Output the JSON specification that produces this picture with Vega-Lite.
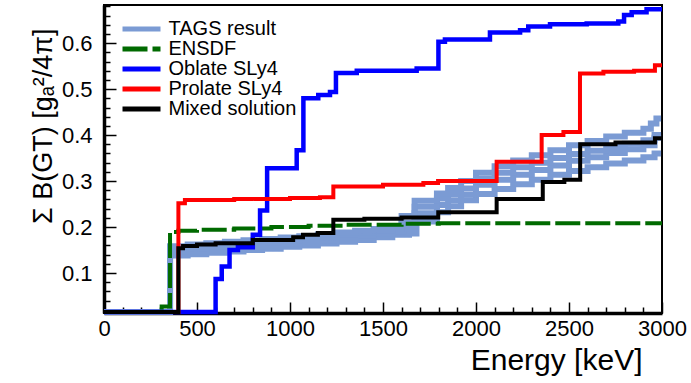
{
  "$schema": "https://vega.github.io/schema/vega-lite/v6.json",
  "width": 558,
  "height": 308,
  "autosize": {"type": "none"},
  "padding": {"left": 104, "top": 5, "right": 29, "bottom": 70},
  "background": "white",
  "config": {
    "font": "Liberation Sans",
    "view": {"stroke": "black", "strokeWidth": 2},
    "axis": {"domainColor": "black", "domainWidth": 3.5, "tickColor": "black", "tickWidth": 1.5, "labelColor": "black", "titleColor": "black", "labelFont": "Liberation Sans", "titleFont": "Liberation Sans", "labelFontSize": 22, "titleFontSize": 27, "titleFontWeight": "normal", "grid": false, "labelOverlap": false, "labelFlush": false, "labelBound": false},
    "legend": {"symbolType": "M-3.8,0H3.8", "symbolSize": 100, "symbolStrokeWidth": 5, "labelFontSize": 20, "labelFont": "Liberation Sans", "labelColor": "black", "labelOffset": 17, "rowPadding": 0, "padding": 0, "offset": 0}
  },
  "data": {"values": [
    {"s": "TAGS result", "r": "t1", "E": 0, "y": 0.015},
    {"s": "TAGS result", "r": "t1", "E": 355, "y": 0.138},
    {"s": "TAGS result", "r": "t1", "E": 450, "y": 0.141},
    {"s": "TAGS result", "r": "t1", "E": 550, "y": 0.144},
    {"s": "TAGS result", "r": "t1", "E": 650, "y": 0.147},
    {"s": "TAGS result", "r": "t1", "E": 750, "y": 0.150},
    {"s": "TAGS result", "r": "t1", "E": 850, "y": 0.153},
    {"s": "TAGS result", "r": "t1", "E": 950, "y": 0.157},
    {"s": "TAGS result", "r": "t1", "E": 1050, "y": 0.160},
    {"s": "TAGS result", "r": "t1", "E": 1150, "y": 0.164},
    {"s": "TAGS result", "r": "t1", "E": 1250, "y": 0.168},
    {"s": "TAGS result", "r": "t1", "E": 1350, "y": 0.172},
    {"s": "TAGS result", "r": "t1", "E": 1450, "y": 0.178},
    {"s": "TAGS result", "r": "t1", "E": 1550, "y": 0.183},
    {"s": "TAGS result", "r": "t1", "E": 1640, "y": 0.186},
    {"s": "TAGS result", "r": "t1", "E": 1680, "y": 0.212},
    {"s": "TAGS result", "r": "t1", "E": 1790, "y": 0.232},
    {"s": "TAGS result", "r": "t1", "E": 1850, "y": 0.245},
    {"s": "TAGS result", "r": "t1", "E": 1920, "y": 0.258},
    {"s": "TAGS result", "r": "t1", "E": 2000, "y": 0.272},
    {"s": "TAGS result", "r": "t1", "E": 2100, "y": 0.283},
    {"s": "TAGS result", "r": "t1", "E": 2200, "y": 0.293},
    {"s": "TAGS result", "r": "t1", "E": 2300, "y": 0.303},
    {"s": "TAGS result", "r": "t1", "E": 2400, "y": 0.314},
    {"s": "TAGS result", "r": "t1", "E": 2500, "y": 0.322},
    {"s": "TAGS result", "r": "t1", "E": 2600, "y": 0.330},
    {"s": "TAGS result", "r": "t1", "E": 2700, "y": 0.338},
    {"s": "TAGS result", "r": "t1", "E": 2800, "y": 0.345},
    {"s": "TAGS result", "r": "t1", "E": 2900, "y": 0.352},
    {"s": "TAGS result", "r": "t1", "E": 2960, "y": 0.360},
    {"s": "TAGS result", "r": "t1", "E": 2995, "y": 0.360},
    {"s": "TAGS result", "r": "t2", "E": 0, "y": 0.015},
    {"s": "TAGS result", "r": "t2", "E": 355, "y": 0.143},
    {"s": "TAGS result", "r": "t2", "E": 450, "y": 0.147},
    {"s": "TAGS result", "r": "t2", "E": 550, "y": 0.150},
    {"s": "TAGS result", "r": "t2", "E": 650, "y": 0.153},
    {"s": "TAGS result", "r": "t2", "E": 750, "y": 0.157},
    {"s": "TAGS result", "r": "t2", "E": 850, "y": 0.160},
    {"s": "TAGS result", "r": "t2", "E": 950, "y": 0.164},
    {"s": "TAGS result", "r": "t2", "E": 1050, "y": 0.167},
    {"s": "TAGS result", "r": "t2", "E": 1150, "y": 0.171},
    {"s": "TAGS result", "r": "t2", "E": 1250, "y": 0.176},
    {"s": "TAGS result", "r": "t2", "E": 1350, "y": 0.181},
    {"s": "TAGS result", "r": "t2", "E": 1450, "y": 0.186},
    {"s": "TAGS result", "r": "t2", "E": 1550, "y": 0.190},
    {"s": "TAGS result", "r": "t2", "E": 1610, "y": 0.198},
    {"s": "TAGS result", "r": "t2", "E": 1670, "y": 0.230},
    {"s": "TAGS result", "r": "t2", "E": 1790, "y": 0.248},
    {"s": "TAGS result", "r": "t2", "E": 1850, "y": 0.258},
    {"s": "TAGS result", "r": "t2", "E": 1920, "y": 0.270},
    {"s": "TAGS result", "r": "t2", "E": 2000, "y": 0.292},
    {"s": "TAGS result", "r": "t2", "E": 2100, "y": 0.303},
    {"s": "TAGS result", "r": "t2", "E": 2200, "y": 0.314},
    {"s": "TAGS result", "r": "t2", "E": 2300, "y": 0.324},
    {"s": "TAGS result", "r": "t2", "E": 2400, "y": 0.334},
    {"s": "TAGS result", "r": "t2", "E": 2500, "y": 0.344},
    {"s": "TAGS result", "r": "t2", "E": 2600, "y": 0.352},
    {"s": "TAGS result", "r": "t2", "E": 2700, "y": 0.361},
    {"s": "TAGS result", "r": "t2", "E": 2800, "y": 0.369},
    {"s": "TAGS result", "r": "t2", "E": 2900, "y": 0.378},
    {"s": "TAGS result", "r": "t2", "E": 2960, "y": 0.394},
    {"s": "TAGS result", "r": "t2", "E": 2995, "y": 0.394},
    {"s": "TAGS result", "r": "t3", "E": 0, "y": 0.015},
    {"s": "TAGS result", "r": "t3", "E": 355, "y": 0.150},
    {"s": "TAGS result", "r": "t3", "E": 450, "y": 0.154},
    {"s": "TAGS result", "r": "t3", "E": 550, "y": 0.157},
    {"s": "TAGS result", "r": "t3", "E": 650, "y": 0.160},
    {"s": "TAGS result", "r": "t3", "E": 750, "y": 0.163},
    {"s": "TAGS result", "r": "t3", "E": 850, "y": 0.167},
    {"s": "TAGS result", "r": "t3", "E": 950, "y": 0.170},
    {"s": "TAGS result", "r": "t3", "E": 1050, "y": 0.174},
    {"s": "TAGS result", "r": "t3", "E": 1150, "y": 0.178},
    {"s": "TAGS result", "r": "t3", "E": 1250, "y": 0.183},
    {"s": "TAGS result", "r": "t3", "E": 1350, "y": 0.188},
    {"s": "TAGS result", "r": "t3", "E": 1450, "y": 0.192},
    {"s": "TAGS result", "r": "t3", "E": 1550, "y": 0.196},
    {"s": "TAGS result", "r": "t3", "E": 1600, "y": 0.210},
    {"s": "TAGS result", "r": "t3", "E": 1670, "y": 0.244},
    {"s": "TAGS result", "r": "t3", "E": 1790, "y": 0.262},
    {"s": "TAGS result", "r": "t3", "E": 1850, "y": 0.272},
    {"s": "TAGS result", "r": "t3", "E": 1920, "y": 0.284},
    {"s": "TAGS result", "r": "t3", "E": 2000, "y": 0.305},
    {"s": "TAGS result", "r": "t3", "E": 2100, "y": 0.318},
    {"s": "TAGS result", "r": "t3", "E": 2200, "y": 0.330},
    {"s": "TAGS result", "r": "t3", "E": 2300, "y": 0.340},
    {"s": "TAGS result", "r": "t3", "E": 2400, "y": 0.350},
    {"s": "TAGS result", "r": "t3", "E": 2500, "y": 0.359},
    {"s": "TAGS result", "r": "t3", "E": 2600, "y": 0.366},
    {"s": "TAGS result", "r": "t3", "E": 2700, "y": 0.374},
    {"s": "TAGS result", "r": "t3", "E": 2800, "y": 0.381},
    {"s": "TAGS result", "r": "t3", "E": 2900, "y": 0.389},
    {"s": "TAGS result", "r": "t3", "E": 2960, "y": 0.400},
    {"s": "TAGS result", "r": "t3", "E": 2995, "y": 0.400},
    {"s": "TAGS result", "r": "t4", "E": 0, "y": 0.015},
    {"s": "TAGS result", "r": "t4", "E": 355, "y": 0.158},
    {"s": "TAGS result", "r": "t4", "E": 450, "y": 0.162},
    {"s": "TAGS result", "r": "t4", "E": 550, "y": 0.165},
    {"s": "TAGS result", "r": "t4", "E": 650, "y": 0.168},
    {"s": "TAGS result", "r": "t4", "E": 750, "y": 0.171},
    {"s": "TAGS result", "r": "t4", "E": 850, "y": 0.174},
    {"s": "TAGS result", "r": "t4", "E": 950, "y": 0.177},
    {"s": "TAGS result", "r": "t4", "E": 1050, "y": 0.180},
    {"s": "TAGS result", "r": "t4", "E": 1150, "y": 0.184},
    {"s": "TAGS result", "r": "t4", "E": 1250, "y": 0.188},
    {"s": "TAGS result", "r": "t4", "E": 1350, "y": 0.192},
    {"s": "TAGS result", "r": "t4", "E": 1450, "y": 0.196},
    {"s": "TAGS result", "r": "t4", "E": 1550, "y": 0.201},
    {"s": "TAGS result", "r": "t4", "E": 1600, "y": 0.224},
    {"s": "TAGS result", "r": "t4", "E": 1670, "y": 0.257},
    {"s": "TAGS result", "r": "t4", "E": 1790, "y": 0.273},
    {"s": "TAGS result", "r": "t4", "E": 1850, "y": 0.285},
    {"s": "TAGS result", "r": "t4", "E": 1920, "y": 0.300},
    {"s": "TAGS result", "r": "t4", "E": 2000, "y": 0.318},
    {"s": "TAGS result", "r": "t4", "E": 2100, "y": 0.332},
    {"s": "TAGS result", "r": "t4", "E": 2200, "y": 0.345},
    {"s": "TAGS result", "r": "t4", "E": 2300, "y": 0.356},
    {"s": "TAGS result", "r": "t4", "E": 2400, "y": 0.367},
    {"s": "TAGS result", "r": "t4", "E": 2500, "y": 0.378},
    {"s": "TAGS result", "r": "t4", "E": 2600, "y": 0.387},
    {"s": "TAGS result", "r": "t4", "E": 2700, "y": 0.397},
    {"s": "TAGS result", "r": "t4", "E": 2800, "y": 0.405},
    {"s": "TAGS result", "r": "t4", "E": 2900, "y": 0.414},
    {"s": "TAGS result", "r": "t4", "E": 2940, "y": 0.425},
    {"s": "TAGS result", "r": "t4", "E": 2970, "y": 0.436},
    {"s": "TAGS result", "r": "t4", "E": 2995, "y": 0.436},
    {"s": "ENSDF", "r": "e", "E": 0, "y": 0.015},
    {"s": "ENSDF", "r": "e", "E": 310, "y": 0.027},
    {"s": "ENSDF", "r": "e", "E": 355, "y": 0.189},
    {"s": "ENSDF", "r": "e", "E": 400, "y": 0.192},
    {"s": "ENSDF", "r": "e", "E": 500, "y": 0.194},
    {"s": "ENSDF", "r": "e", "E": 700, "y": 0.197},
    {"s": "ENSDF", "r": "e", "E": 900, "y": 0.200},
    {"s": "ENSDF", "r": "e", "E": 1100, "y": 0.203},
    {"s": "ENSDF", "r": "e", "E": 1300, "y": 0.205},
    {"s": "ENSDF", "r": "e", "E": 1600, "y": 0.207},
    {"s": "ENSDF", "r": "e", "E": 1800, "y": 0.208},
    {"s": "ENSDF", "r": "e", "E": 3000, "y": 0.208},
    {"s": "Oblate SLy4", "r": "o", "E": 0, "y": 0.015},
    {"s": "Oblate SLy4", "r": "o", "E": 600, "y": 0.087},
    {"s": "Oblate SLy4", "r": "o", "E": 633, "y": 0.114},
    {"s": "Oblate SLy4", "r": "o", "E": 675, "y": 0.150},
    {"s": "Oblate SLy4", "r": "o", "E": 720, "y": 0.156},
    {"s": "Oblate SLy4", "r": "o", "E": 800, "y": 0.183},
    {"s": "Oblate SLy4", "r": "o", "E": 839, "y": 0.236},
    {"s": "Oblate SLy4", "r": "o", "E": 877, "y": 0.328},
    {"s": "Oblate SLy4", "r": "o", "E": 1036, "y": 0.367},
    {"s": "Oblate SLy4", "r": "o", "E": 1072, "y": 0.480},
    {"s": "Oblate SLy4", "r": "o", "E": 1152, "y": 0.487},
    {"s": "Oblate SLy4", "r": "o", "E": 1215, "y": 0.494},
    {"s": "Oblate SLy4", "r": "o", "E": 1247, "y": 0.535},
    {"s": "Oblate SLy4", "r": "o", "E": 1359, "y": 0.540},
    {"s": "Oblate SLy4", "r": "o", "E": 1681, "y": 0.545},
    {"s": "Oblate SLy4", "r": "o", "E": 1798, "y": 0.603},
    {"s": "Oblate SLy4", "r": "o", "E": 1833, "y": 0.608},
    {"s": "Oblate SLy4", "r": "o", "E": 2075, "y": 0.623},
    {"s": "Oblate SLy4", "r": "o", "E": 2237, "y": 0.628},
    {"s": "Oblate SLy4", "r": "o", "E": 2281, "y": 0.636},
    {"s": "Oblate SLy4", "r": "o", "E": 2398, "y": 0.641},
    {"s": "Oblate SLy4", "r": "o", "E": 2595, "y": 0.643},
    {"s": "Oblate SLy4", "r": "o", "E": 2765, "y": 0.647},
    {"s": "Oblate SLy4", "r": "o", "E": 2796, "y": 0.661},
    {"s": "Oblate SLy4", "r": "o", "E": 2837, "y": 0.667},
    {"s": "Oblate SLy4", "r": "o", "E": 2917, "y": 0.674},
    {"s": "Oblate SLy4", "r": "o", "E": 3000, "y": 0.674},
    {"s": "Prolate SLy4", "r": "p", "E": 0, "y": 0.015},
    {"s": "Prolate SLy4", "r": "p", "E": 400, "y": 0.252},
    {"s": "Prolate SLy4", "r": "p", "E": 435, "y": 0.259},
    {"s": "Prolate SLy4", "r": "p", "E": 700, "y": 0.261},
    {"s": "Prolate SLy4", "r": "p", "E": 1000, "y": 0.263},
    {"s": "Prolate SLy4", "r": "p", "E": 1161, "y": 0.265},
    {"s": "Prolate SLy4", "r": "p", "E": 1233, "y": 0.288},
    {"s": "Prolate SLy4", "r": "p", "E": 1500, "y": 0.292},
    {"s": "Prolate SLy4", "r": "p", "E": 1717, "y": 0.296},
    {"s": "Prolate SLy4", "r": "p", "E": 1796, "y": 0.300},
    {"s": "Prolate SLy4", "r": "p", "E": 2111, "y": 0.342},
    {"s": "Prolate SLy4", "r": "p", "E": 2353, "y": 0.400},
    {"s": "Prolate SLy4", "r": "p", "E": 2470, "y": 0.407},
    {"s": "Prolate SLy4", "r": "p", "E": 2559, "y": 0.534},
    {"s": "Prolate SLy4", "r": "p", "E": 2685, "y": 0.538},
    {"s": "Prolate SLy4", "r": "p", "E": 2850, "y": 0.540},
    {"s": "Prolate SLy4", "r": "p", "E": 2962, "y": 0.552},
    {"s": "Prolate SLy4", "r": "p", "E": 3000, "y": 0.552},
    {"s": "Mixed solution", "r": "m", "E": 0, "y": 0.015},
    {"s": "Mixed solution", "r": "m", "E": 400, "y": 0.154},
    {"s": "Mixed solution", "r": "m", "E": 425, "y": 0.159},
    {"s": "Mixed solution", "r": "m", "E": 500, "y": 0.162},
    {"s": "Mixed solution", "r": "m", "E": 600, "y": 0.165},
    {"s": "Mixed solution", "r": "m", "E": 800, "y": 0.172},
    {"s": "Mixed solution", "r": "m", "E": 1017, "y": 0.178},
    {"s": "Mixed solution", "r": "m", "E": 1070, "y": 0.183},
    {"s": "Mixed solution", "r": "m", "E": 1150, "y": 0.187},
    {"s": "Mixed solution", "r": "m", "E": 1233, "y": 0.216},
    {"s": "Mixed solution", "r": "m", "E": 1400, "y": 0.218},
    {"s": "Mixed solution", "r": "m", "E": 1600, "y": 0.221},
    {"s": "Mixed solution", "r": "m", "E": 1797, "y": 0.232},
    {"s": "Mixed solution", "r": "m", "E": 2111, "y": 0.261},
    {"s": "Mixed solution", "r": "m", "E": 2359, "y": 0.298},
    {"s": "Mixed solution", "r": "m", "E": 2475, "y": 0.303},
    {"s": "Mixed solution", "r": "m", "E": 2560, "y": 0.380},
    {"s": "Mixed solution", "r": "m", "E": 2750, "y": 0.384},
    {"s": "Mixed solution", "r": "m", "E": 2962, "y": 0.393},
    {"s": "Mixed solution", "r": "m", "E": 3000, "y": 0.393}
  ]},
  "encoding": {
    "x": {
      "field": "E", "type": "quantitative",
      "scale": {"domain": [0, 3000], "nice": false, "zero": false},
      "axis": {
        "title": "Energy [keV]",
        "values": [0,100,200,300,400,500,600,700,800,900,1000,1100,1200,1300,1400,1500,1600,1700,1800,1900,2000,2100,2200,2300,2400,2500,2600,2700,2800,2900,3000],
        "labelExpr": "datum.value % 500 == 0 ? format(datum.value, 'd') : ''",
        "tickSize": {"condition": {"test": "datum.value % 500 == 0", "value": -11}, "value": -6},
        "labelPadding": 16,
        "titleFontSize": 30,
        "titleAnchor": "end",
        "titleAlign": "right",
        "titleX": 538,
        "titleY": 56,
        "titleBaseline": "alphabetic"
      }
    },
    "y": {
      "field": "y", "type": "quantitative",
      "scale": {"domain": [0.013, 0.683], "nice": false, "zero": false},
      "axis": {
        "title": "Σ B(GT) [gₐ²/4π]",
        "values": [0.02,0.04,0.06,0.08,0.1,0.12,0.14,0.16,0.18,0.2,0.22,0.24,0.26,0.28,0.3,0.32,0.34,0.36,0.38,0.4,0.42,0.44,0.46,0.48,0.5,0.52,0.54,0.56,0.58,0.6,0.62,0.64,0.66,0.68],
        "labelExpr": "abs(datum.value*10 - round(datum.value*10)) < 0.000001 ? format(datum.value, '.1f') : ''",
        "tickSize": {"condition": {"test": "abs(datum.value*10 - round(datum.value*10)) < 0.000001", "value": -12}, "value": -6},
        "labelPadding": 24,
        "titleAnchor": "end",
        "titleAlign": "right",
        "titleAngle": -90,
        "titleX": -53,
        "titleY": 23,
        "titleBaseline": "alphabetic"
      }
    },
    "color": {
      "field": "s", "type": "nominal",
      "scale": {"domain": ["TAGS result", "ENSDF", "Oblate SLy4", "Prolate SLy4", "Mixed solution"], "range": ["#7b9bd4", "#006a00", "#0000ff", "#ff0000", "#000000"]},
      "legend": {"orient": "none", "legendX": 27.5, "legendY": 14, "title": null}
    },
    "strokeDash": {
      "field": "s", "type": "nominal",
      "scale": {"domain": ["TAGS result", "ENSDF", "Oblate SLy4", "Prolate SLy4", "Mixed solution"], "range": [[1, 0], [25, 5], [1, 0], [1, 0], [1, 0]]},
      "legend": {"orient": "none", "legendX": 27.5, "legendY": 14, "title": null}
    },
    "detail": {"field": "r", "type": "nominal"}
  },
  "layer": [
    {"transform": [{"filter": "datum.s === 'TAGS result'"}], "mark": {"type": "line", "interpolate": "step-after", "strokeWidth": 6, "strokeCap": "butt"}},
    {"transform": [{"filter": "datum.s === 'ENSDF'"}], "mark": {"type": "line", "interpolate": "step-after", "strokeWidth": 4, "strokeCap": "butt"}},
    {"transform": [{"filter": "datum.s === 'Oblate SLy4'"}], "mark": {"type": "line", "interpolate": "step-after", "strokeWidth": 4.5, "strokeCap": "butt"}},
    {"transform": [{"filter": "datum.s === 'Prolate SLy4'"}], "mark": {"type": "line", "interpolate": "step-after", "strokeWidth": 4, "strokeCap": "butt"}},
    {"transform": [{"filter": "datum.s === 'Mixed solution'"}], "mark": {"type": "line", "interpolate": "step-after", "strokeWidth": 4, "strokeCap": "butt"}}
  ]
}
